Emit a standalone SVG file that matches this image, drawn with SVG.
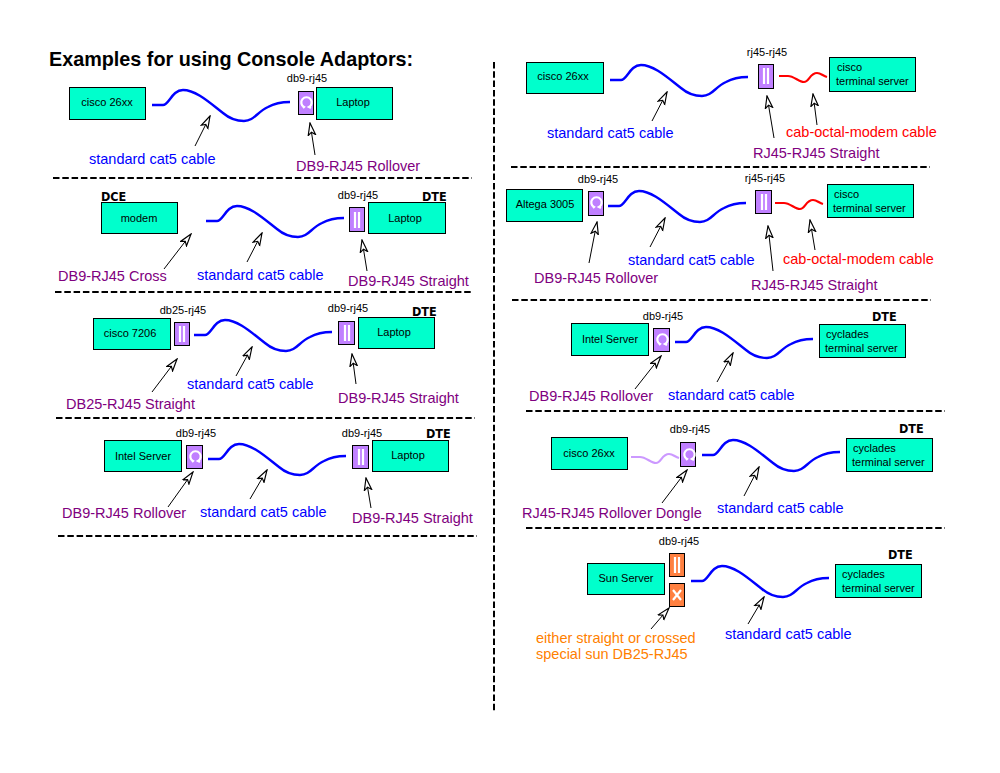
<svg xmlns="http://www.w3.org/2000/svg" width="1000" height="773" viewBox="0 0 1000 773">
<style>
text{font-family:"Liberation Sans",Arial,sans-serif}
.title{font-size:19.8px;font-weight:bold;fill:#000}
.box{fill:#00FFCC;stroke:#000;stroke-width:1}
.ad{fill:#C080FF;stroke:#000;stroke-width:1}
.og{fill:#FF8040;stroke:#000;stroke-width:1}
.n{font-size:11px;fill:#000;text-anchor:middle}
.nl{font-size:11px;fill:#000}
.tag{font-size:11px;fill:#000;text-anchor:middle}
.dte{font-family:"DejaVu Sans Condensed","DejaVu Sans",sans-serif;font-size:12.5px;font-weight:bold;fill:#000}
.bl{font-size:14.5px;fill:#0000FF}
.pu{font-size:14.5px;fill:#800080}
.rd{font-size:14.5px;fill:#FF0000}
.or{font-size:14.5px;fill:#FF8000}
.dash{fill:none;stroke:#000;stroke-width:2;stroke-dasharray:6.5 2.8}
.ar{fill:none;stroke:#000;stroke-width:1;marker-end:url(#open)}
.gl{fill:none;stroke:#fff;stroke-width:2.2}
</style>
<defs>
<marker id="open" markerUnits="userSpaceOnUse" markerWidth="14" markerHeight="10" refX="11" refY="4" orient="auto" viewBox="0 0 12 8">
<path d="M11,4 L0.5,0.8 L3,4 L0.5,7.2 Z" fill="#fff" stroke="#000" stroke-width="1"/>
</marker>
<path id="cat5" d="M0,0 L11,0 C17,0 20,-15 31,-15 C44,-15 58,-2 71,8 C78,14 85,16 92,16 C102,16 105,7 116,2 C123,-2 130,-3 138,-3" fill="none" stroke="#0000FF" stroke-width="2.4" stroke-linejoin="round"/>
<path id="short" d="M0,0 L9,0 C15,0 20,6 25,6 C30,6 31,-3 38,-3 C42,-3 44,0 48,1" fill="none" stroke-width="2.2" stroke-linejoin="round"/>
<g id="straight"><path class="gl" d="M-2,-8 V8 M2,-8 V8"/></g>
<g id="roll"><path class="gl" d="M-3,5 L-2,4 A5.2,5.2 0 1 1 3,4 L5,5"/></g>
<g id="cross"><path class="gl" d="M-4,-5 L4,5 M4,-5 L-4,5"/></g>
</defs>
<text class="title" x="49" y="66">Examples for using Console Adaptors:</text>

<g id="connectors">
<g id="cables">
<use href="#cat5" x="152" y="105"/>
<use href="#cat5" x="206" y="221"/>
<use href="#cat5" x="194" y="335"/>
<use href="#cat5" x="208" y="459"/>
<use href="#cat5" x="610" y="80"/>
<use href="#cat5" x="608" y="206"/>
<use href="#cat5" x="675" y="342"/>
<use href="#cat5" x="702" y="455"/>
<use href="#cat5" x="691" y="581"/>
<use href="#short" x="779" y="76" stroke="#FF0000"/>
<use href="#short" x="775" y="203" stroke="#FF0000"/>
<use href="#short" x="631" y="457" stroke="#CC99FF"/>
</g>
<g id="arrows">
<line class="ar" x1="195" y1="146" x2="210" y2="116"/>
<line class="ar" x1="315" y1="155" x2="310" y2="123"/>
<line class="ar" x1="164" y1="269" x2="191" y2="234"/>
<line class="ar" x1="247" y1="262" x2="262" y2="233"/>
<line class="ar" x1="367" y1="271" x2="362" y2="240"/>
<line class="ar" x1="152" y1="392" x2="177" y2="359"/>
<line class="ar" x1="236" y1="376" x2="252" y2="347"/>
<line class="ar" x1="356" y1="384" x2="352" y2="354"/>
<line class="ar" x1="168" y1="507" x2="193" y2="472"/>
<line class="ar" x1="250" y1="499" x2="267" y2="470"/>
<line class="ar" x1="371" y1="508" x2="366" y2="478"/>
<line class="ar" x1="652" y1="121" x2="667" y2="92"/>
<line class="ar" x1="774" y1="138" x2="767" y2="96"/>
<line class="ar" x1="817" y1="125" x2="813" y2="94"/>
<line class="ar" x1="589" y1="263" x2="597" y2="222"/>
<line class="ar" x1="650" y1="247" x2="665" y2="218"/>
<line class="ar" x1="773" y1="271" x2="768" y2="226"/>
<line class="ar" x1="815" y1="250" x2="810" y2="220"/>
<line class="ar" x1="635" y1="389" x2="661" y2="356"/>
<line class="ar" x1="717" y1="382" x2="733" y2="353"/>
<line class="ar" x1="662" y1="503" x2="687" y2="470"/>
<line class="ar" x1="744" y1="496" x2="759" y2="467"/>
<line class="ar" x1="651" y1="629" x2="669" y2="608"/>
<line class="ar" x1="748" y1="624" x2="764" y2="597"/>
</g>
</g>

<g id="dividers">
<line class="dash" x1="53" y1="178" x2="472" y2="178"/>
<line class="dash" x1="55" y1="292" x2="472" y2="292"/>
<line class="dash" x1="56" y1="418" x2="475" y2="418"/>
<line class="dash" x1="58" y1="536" x2="477" y2="536"/>
<line class="dash" x1="511" y1="167" x2="930" y2="167"/>
<line class="dash" x1="512" y1="300" x2="931" y2="300"/>
<line class="dash" x1="526" y1="411" x2="945" y2="411"/>
<line class="dash" x1="526" y1="528" x2="945" y2="528"/>
<line class="dash" x1="494" y1="62" x2="494" y2="712"/>
</g>

<g id="l1-cisco"><rect class="box" x="69.5" y="87.5" width="76" height="32"/><text class="n" x="107" y="106">cisco 26xx</text></g>
<g id="l1-adapter"><rect class="ad" x="298.5" y="91.5" width="15" height="23"/><use href="#roll" x="306" y="103"/><text class="tag" x="307" y="82">db9-rj45</text></g>
<g id="l1-laptop"><rect class="box" x="316.5" y="87.5" width="76" height="32"/><text class="n" x="353" y="106">Laptop</text></g>

<g id="l2-dce"><text class="dte" x="101" y="201">DCE</text><rect class="box" x="101.5" y="202.5" width="76" height="31"/><text class="n" x="139" y="222">modem</text></g>
<g id="l2-adapter"><rect class="ad" x="349.5" y="207.5" width="15" height="24"/><use href="#straight" x="357" y="220"/><text class="tag" x="358" y="199">db9-rj45</text></g>
<g id="l2-laptop"><text class="dte" x="422" y="201">DTE</text><rect class="box" x="368.5" y="202.5" width="77" height="31"/><text class="n" x="405" y="222">Laptop</text></g>

<g id="l3-cisco"><rect class="box" x="93.5" y="318.5" width="77" height="31"/><text class="n" x="130" y="337">cisco 7206</text></g>
<g id="l3-adapter1"><rect class="ad" x="174.5" y="322.5" width="15" height="23"/><use href="#straight" x="182" y="334"/><text class="tag" x="183" y="314">db25-rj45</text></g>
<g id="l3-adapter2"><rect class="ad" x="338.5" y="321.5" width="16" height="23"/><use href="#straight" x="347" y="333"/><text class="tag" x="348" y="312">db9-rj45</text></g>
<g id="l3-laptop"><text class="dte" x="412" y="316">DTE</text><rect class="box" x="358.5" y="317.5" width="76" height="31"/><text class="n" x="394" y="336">Laptop</text></g>

<g id="l4-intel"><rect class="box" x="104.5" y="440.5" width="77" height="31"/><text class="n" x="143" y="460">Intel Server</text></g>
<g id="l4-adapter1"><rect class="ad" x="186.5" y="445.5" width="16" height="23"/><use href="#roll" x="195" y="457"/><text class="tag" x="196" y="437">db9-rj45</text></g>
<g id="l4-adapter2"><rect class="ad" x="352.5" y="445.5" width="16" height="23"/><use href="#straight" x="361" y="457"/><text class="tag" x="362" y="437">db9-rj45</text></g>
<g id="l4-laptop"><text class="dte" x="426" y="438">DTE</text><rect class="box" x="372.5" y="440.5" width="76" height="31"/><text class="n" x="408" y="459">Laptop</text></g>

<g id="r1-cisco"><rect class="box" x="526.5" y="62.5" width="77" height="31"/><text class="n" x="563" y="80">cisco 26xx</text></g>
<g id="r1-adapter"><rect class="ad" x="758.5" y="64.5" width="15" height="24"/><use href="#straight" x="766" y="76"/><text class="tag" x="767" y="56">rj45-rj45</text></g>
<g id="r1-ts"><rect class="box" x="829.5" y="57.5" width="86" height="34"/><text class="nl" x="837" y="71">cisco</text><text class="nl" x="836" y="85">terminal server</text></g>

<g id="r2-altega"><rect class="box" x="506.5" y="189.5" width="76" height="32"/><text class="n" x="545" y="208">Altega 3005</text></g>
<g id="r2-adapter1"><rect class="ad" x="588.5" y="191.5" width="15" height="24"/><use href="#roll" x="596" y="203"/><text class="tag" x="598" y="183">db9-rj45</text></g>
<g id="r2-adapter2"><rect class="ad" x="755.5" y="190.5" width="16" height="23"/><use href="#straight" x="764" y="202"/><text class="tag" x="765" y="182">rj45-rj45</text></g>
<g id="r2-ts"><rect class="box" x="827.5" y="184.5" width="86" height="33"/><text class="nl" x="834" y="198">cisco</text><text class="nl" x="833" y="212">terminal server</text></g>

<g id="r3-intel"><rect class="box" x="571.5" y="323.5" width="77" height="32"/><text class="n" x="610" y="343">Intel Server</text></g>
<g id="r3-adapter"><rect class="ad" x="653.5" y="328.5" width="16" height="23"/><use href="#roll" x="662" y="340"/><text class="tag" x="663" y="320">db9-rj45</text></g>
<g id="r3-ts"><text class="dte" x="872" y="321">DTE</text><rect class="box" x="819.5" y="324.5" width="86" height="33"/><text class="nl" x="826" y="338">cyclades</text><text class="nl" x="825" y="352">terminal server</text></g>

<g id="r4-cisco"><rect class="box" x="551.5" y="437.5" width="76" height="32"/><text class="n" x="589" y="457">cisco 26xx</text></g>
<g id="r4-adapter"><rect class="ad" x="680.5" y="442.5" width="15" height="24"/><use href="#roll" x="689" y="455"/><text class="tag" x="690" y="433">db9-rj45</text></g>
<g id="r4-ts"><text class="dte" x="899" y="433">DTE</text><rect class="box" x="846.5" y="438.5" width="86" height="33"/><text class="nl" x="853" y="452">cyclades</text><text class="nl" x="852" y="466">terminal server</text></g>

<g id="r5-sun"><rect class="box" x="587.5" y="563.5" width="77" height="31"/><text class="n" x="626" y="582">Sun Server</text></g>
<g id="r5-adapter1"><rect class="og" x="669.5" y="553.5" width="15" height="23"/><use href="#straight" x="677" y="565"/><text class="tag" x="679" y="545">db9-rj45</text></g>
<g id="r5-adapter2"><rect class="og" x="669.5" y="583.5" width="15" height="23"/><use href="#cross" x="677" y="595"/></g>
<g id="r5-ts"><text class="dte" x="888" y="559">DTE</text><rect class="box" x="835.5" y="564.5" width="86" height="33"/><text class="nl" x="842" y="578">cyclades</text><text class="nl" x="842" y="592">terminal server</text></g>

<g id="labels">
<text class="bl" x="89" y="164">standard cat5 cable</text>
<text class="pu" x="296" y="171">DB9-RJ45 Rollover</text>
<text class="pu" x="58" y="281">DB9-RJ45 Cross</text>
<text class="bl" x="197" y="280">standard cat5 cable</text>
<text class="pu" x="348" y="286">DB9-RJ45 Straight</text>
<text class="bl" x="187" y="389">standard cat5 cable</text>
<text class="pu" x="66" y="409">DB25-RJ45 Straight</text>
<text class="pu" x="338" y="403">DB9-RJ45 Straight</text>
<text class="pu" x="62" y="518">DB9-RJ45 Rollover</text>
<text class="bl" x="200" y="517">standard cat5 cable</text>
<text class="pu" x="352" y="523">DB9-RJ45 Straight</text>
<text class="bl" x="547" y="138">standard cat5 cable</text>
<text class="rd" x="786" y="137">cab-octal-modem cable</text>
<text class="pu" x="753" y="158">RJ45-RJ45 Straight</text>
<text class="pu" x="534" y="283">DB9-RJ45 Rollover</text>
<text class="bl" x="628" y="265">standard cat5 cable</text>
<text class="rd" x="783" y="264">cab-octal-modem cable</text>
<text class="pu" x="751" y="290">RJ45-RJ45 Straight</text>
<text class="pu" x="529" y="401">DB9-RJ45 Rollover</text>
<text class="bl" x="668" y="400">standard cat5 cable</text>
<text class="pu" x="522" y="518">RJ45-RJ45 Rollover Dongle</text>
<text class="bl" x="717" y="513">standard cat5 cable</text>
<text class="or" x="536" y="643">either straight or crossed</text>
<text class="or" x="536" y="659">special sun DB25-RJ45</text>
<text class="bl" x="725" y="639">standard cat5 cable</text>
</g>
</svg>
